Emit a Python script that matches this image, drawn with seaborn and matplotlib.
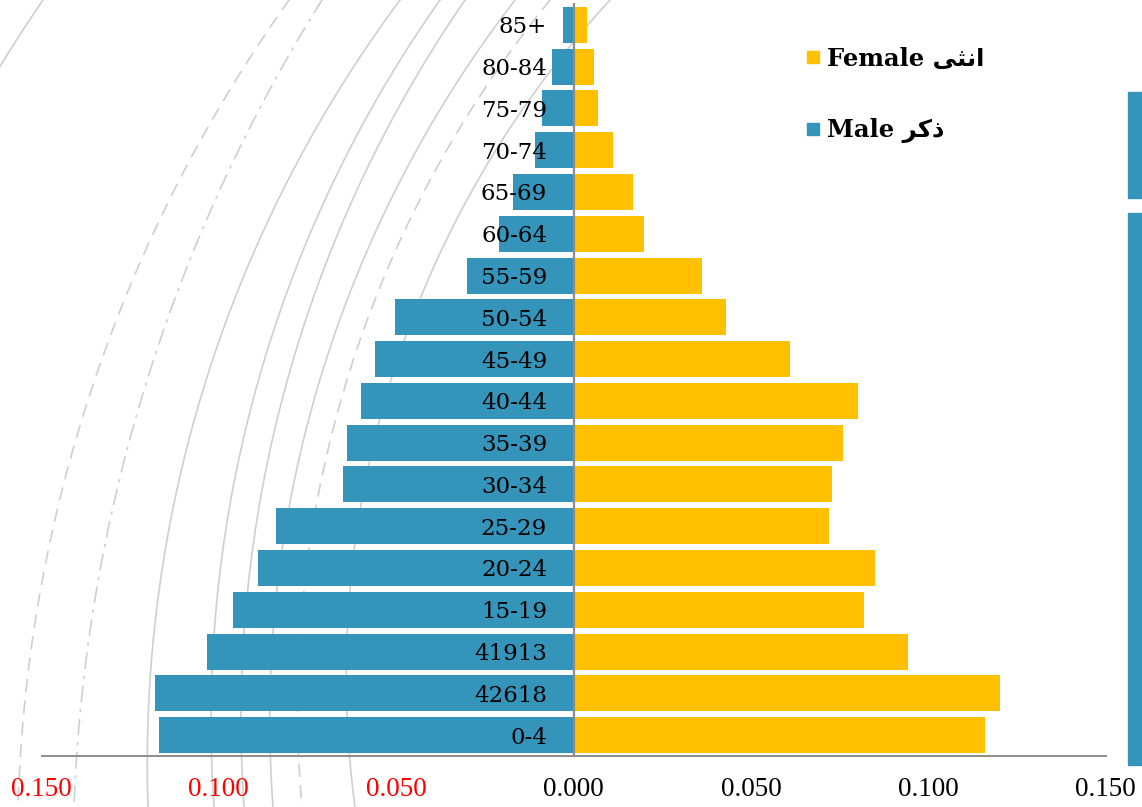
import numpy as np
import pandas as pd
import matplotlib
matplotlib.use("Agg")
import matplotlib.pyplot as plt
from matplotlib.lines import Line2D
from matplotlib.patches import Rectangle
from matplotlib.ticker import FixedLocator
from matplotlib.font_manager import FontProperties
import seaborn as sns

# ---- data (shares of population) ----
age_groups = ["0-4", "42618", "41913", "15-19", "20-24", "25-29", "30-34", "35-39",
              "40-44", "45-49", "50-54", "55-59", "60-64", "65-69", "70-74",
              "75-79", "80-84", "85+"]
male = [0.1170, 0.1181, 0.1032, 0.0961, 0.0891, 0.0840, 0.0650, 0.0640, 0.0600,
        0.0561, 0.0502, 0.0300, 0.0210, 0.0170, 0.0109, 0.0090, 0.0061, 0.0031]
female = [0.1159, 0.1201, 0.0942, 0.0820, 0.0851, 0.0719, 0.0730, 0.0761, 0.0801,
          0.0609, 0.0429, 0.0361, 0.0200, 0.0169, 0.0110, 0.0070, 0.0058, 0.0039]
x_ticks = [-0.15, -0.10, -0.05, 0.0, 0.05, 0.10, 0.15]
x_tick_labels = ["0.150", "0.100", "0.050", "0.000", "0.050", "0.100", "0.150"]
# Arabic words written in presentation forms, visual order (matplotlib does no shaping)
female_label = "Female " + "\ufef0\ufe9c\ufee7\ufe8d"   # انثى
male_label = "Male " + "\ufeae\ufedb\ufeab"             # ذكر

BLUE = "#3494BA"
YELLOW = "#FFC000"

sns.set_style("white")
plt.rcParams["font.family"] = ["DejaVu Serif", "DejaVu Sans"]
plt.rcParams["text.color"] = "black"
plt.rcParams["xtick.color"] = "black"
plt.rcParams["ytick.color"] = "black"

W, H = 1142, 807
fig = plt.figure(figsize=(W / 100, H / 100), dpi=100)

# background decoration: arcs (x at y=0, 400, 807 in pixels)
bg = fig.add_axes([0, 0, 1, 1], zorder=0)
bg.set_xlim(0, W)
bg.set_ylim(H, 0)
bg.axis("off")
dash = (0, (8, 5))
dashdot = (0, (10, 4, 2, 4))
arcs = [((43, -152, -222), "-"), ((289, 88, 18), dash), ((322, 141, 74), dashdot),
        ((400, 200, 148), "-"), ((440, 253, 214), "-"), ((465, 282, 244), "-"),
        ((515, 314, 273), "-"), ((550, 341, 302), dash), ((610, 385, 355), "-")]
for (xt, xm, xb), ls in arcs:
    pts = np.array([[xt, 0], [xm, 400], [xb, 807]], float)
    A = 2 * (pts[1:] - pts[0])
    b = (pts[1:] ** 2).sum(1) - (pts[0] ** 2).sum()
    cx, cy = np.linalg.solve(A, b)
    r = np.hypot(*(pts[0] - [cx, cy]))
    yy = np.linspace(-20, H + 20, 400)
    xx = cx - np.sqrt(np.clip(r ** 2 - (yy - cy) ** 2, 0, None))
    bg.plot(xx, yy, color="#cfcfcf", lw=1.2, ls=ls)

# right edge blue strips
fig.patches.append(Rectangle((1128 / W, 609 / H), 14 / W, 106 / H,
                             transform=fig.transFigure, color=BLUE, zorder=0))
fig.patches.append(Rectangle((1128 / W, 42 / H), 14 / W, 552 / H,
                             transform=fig.transFigure, color=BLUE, zorder=0))

# main pyramid
ax = fig.add_axes([41.5 / W, (H - 756) / H, (1105.6 - 41.5) / W, (756 - 4) / H], zorder=1)
ax.patch.set_alpha(0)

df = pd.DataFrame({
    "age": age_groups * 2,
    "share": [-m for m in male] + female,
    "sex": ["Male"] * len(male) + ["Female"] * len(female),
})
sns.barplot(data=df, y="age", x="share", hue="sex", order=age_groups[::-1],
            hue_order=["Male", "Female"], palette={"Male": BLUE, "Female": YELLOW},
            dodge=False, width=0.86, orient="h", errorbar=None, legend=False,
            saturation=1, linewidth=0, ax=ax)

ax.set_xlim(-0.15, 0.15)
ax.set_ylim(len(age_groups) - 0.5, -0.5)
ax.set_xlabel("")
ax.set_ylabel("")
ax.set_axisbelow(False)

for s in ["top", "right"]:
    ax.spines[s].set_visible(False)
ax.spines["left"].set_position(("data", 0))
ax.spines["left"].set_color("#8c8c8c")
ax.spines["left"].set_linewidth(1.6)
ax.spines["bottom"].set_color("#8c8c8c")
ax.spines["bottom"].set_linewidth(1.4)

ax.set_xticks(x_ticks, x_tick_labels)
for i, lab in enumerate(ax.get_xticklabels()):
    lab.set_fontfamily("Liberation Serif")
    lab.set_fontsize(19.5)
    lab.set_color("red" if x_ticks[i] < 0 else "black")
ax.tick_params(axis="x", length=6, width=1.2, color="#8c8c8c", pad=9, direction="out")

ax.yaxis.set_minor_locator(FixedLocator(np.arange(-0.5, len(age_groups), 1)))
ax.tick_params(axis="y", which="major", length=0, pad=19, labelsize=16.5,
               labelcolor="black")
ax.tick_params(axis="y", which="minor", length=6, width=1.2, color="#8c8c8c",
               direction="out")

# legend
fp = FontProperties(family=["DejaVu Serif", "DejaVu Sans"], weight="bold", size=17.5)
handles = [Line2D([], [], ls="", marker="s", markersize=8.6, color=YELLOW),
           Line2D([], [], ls="", marker="s", markersize=8.6, color=BLUE)]
leg = fig.legend(handles, [female_label, male_label], loc="upper left",
                 bbox_to_anchor=(806 / W, 1 - 47 / H), frameon=False, prop=fp,
                 handlelength=0.55, handletextpad=0.3, labelspacing=1.95,
                 borderpad=0, borderaxespad=0)
for t in leg.get_texts():
    t.set_color("black")

fig.savefig("out.png", dpi=100)
